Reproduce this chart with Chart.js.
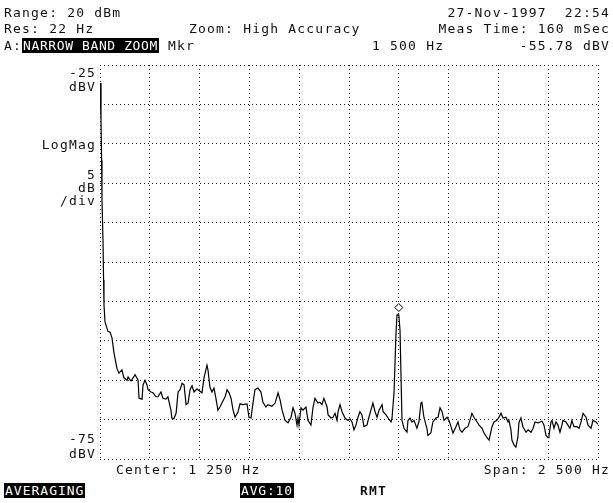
<!DOCTYPE html>
<html lang="en">
<head>
  <title>Narrow Band Zoom</title>
  <script src="https://cdn.jsdelivr.net/npm/chart.js"></script>
  <style>
    html, body { margin: 0; padding: 0; background: #fff; }
    #wrap { position: relative; width: 613px; height: 503px; overflow: hidden; }
    canvas { position: absolute; left: 0; top: 0; }
    .t { position: absolute; font-family: "DejaVu Sans Mono", monospace; font-size: 13px; letter-spacing: 1.2px; line-height: 14px; color: #111; white-space: pre; }
    .r { text-align: right; }
    .inv { background: #000; color: #fff; padding: 0 1px; letter-spacing: 0.6px; }
    .b { font-weight: bold; }
  </style>
</head>
<body>
  <div id="wrap">
    <canvas id="spec" width="613" height="503"></canvas>

    <div class="t" style="left:4px; top:6px">Range: 20 dBm</div>
    <div class="t" style="right:3px; top:6px">27-Nov-1997  22:54</div>
    <div class="t" style="left:4px; top:22px">Res: 22 Hz</div>
    <div class="t" style="left:189px; top:22px">Zoom: High Accuracy</div>
    <div class="t" style="right:3px; top:22px">Meas Time: 160 mSec</div>
    <div class="t" style="left:4px; top:39px">A:<span class="inv">NARROW BAND ZOOM</span> Mkr</div>
    <div class="t" style="left:372px; top:39px">1 500 Hz</div>
    <div class="t" style="right:3px; top:39px">-55.78 dBV</div>

    <div class="t r" style="right:517px; top:66px">-25</div>
    <div class="t r" style="right:517px; top:80px">dBV</div>
    <div class="t r" style="right:517px; top:138px">LogMag</div>
    <div class="t r" style="right:517px; top:168px">5</div>
    <div class="t r" style="right:517px; top:181px">dB</div>
    <div class="t r" style="right:517px; top:194px">/div</div>
    <div class="t r" style="right:517px; top:432px">-75</div>
    <div class="t r" style="right:517px; top:447px">dBV</div>

    <div class="t" style="left:116px; top:463px">Center: 1 250 Hz</div>
    <div class="t" style="right:3px; top:463px">Span: 2 500 Hz</div>
    <div class="t" style="left:4px; top:484px"><span class="inv" style="letter-spacing:1px">AVERAGING</span></div>
    <div class="t" style="left:240px; top:484px"><span class="inv" style="letter-spacing:0.8px">AVG:10</span></div>
    <div class="t b" style="left:360px; top:484px">RMT</div>
  </div>

  <script>
    // frequency (Hz) and level (dBV)
    const freqHz = [
      0, 5, 8, 10, 15, 18, 20, 25, 40, 50,
      60, 70, 85, 95, 110, 120, 136, 141, 156, 166,
      176, 191, 196, 211, 216, 226, 236, 241, 256, 266,
      281, 291, 306, 316, 331, 341, 356, 361, 371, 382,
      392, 402, 412, 422, 432, 442, 452, 462, 472, 487,
      492, 512, 522, 537, 542, 552, 562, 572, 582, 592,
      602, 612, 628, 638, 648, 658, 668, 678, 693, 703,
      718, 738, 748, 758, 768, 778, 793, 808, 818, 833,
      843, 863, 879, 894, 904, 914, 929, 944, 959, 969,
      979, 989, 994, 999, 1009, 1019, 1034, 1044, 1059, 1069,
      1079, 1094, 1104, 1114, 1124, 1140, 1145, 1160, 1170, 1180,
      1190, 1195, 1205, 1215, 1230, 1245, 1255, 1265, 1275, 1285,
      1295, 1305, 1315, 1325, 1340, 1350, 1360, 1370, 1381, 1391,
      1401, 1416, 1421, 1436, 1446, 1461, 1466, 1476, 1486, 1491,
      1500, 1506, 1516, 1526, 1541, 1546, 1556, 1566, 1576, 1591,
      1601, 1611, 1616, 1626, 1641, 1646, 1661, 1671, 1686, 1697,
      1707, 1717, 1727, 1742, 1752, 1762, 1772, 1787, 1797, 1807,
      1817, 1832, 1847, 1857, 1867, 1877, 1893, 1903, 1918, 1928,
      1943, 1953, 1968, 1978, 1993, 2003, 2013, 2023, 2038, 2048,
      2053, 2063, 2068, 2078, 2088, 2098, 2103, 2113, 2123, 2139,
      2149, 2164, 2174, 2184, 2199, 2209, 2219, 2229, 2239, 2249,
      2254, 2264, 2269, 2279, 2289, 2299, 2309, 2319, 2324, 2339,
      2349, 2359, 2369, 2379, 2395, 2405, 2415, 2425, 2440, 2450,
      2465, 2475, 2490, 2500
    ];
    const levelDbv = [
      -27.3, -32.0, -37.1, -42.1, -47.2, -52.3, -55.4, -57.6, -58.8, -58.9,
      -59.6, -61.5, -63.5, -64.1, -63.7, -64.7, -65.0, -64.6, -65.1, -64.7,
      -64.3, -65.0, -67.3, -67.4, -65.6, -65.0, -65.6, -66.2, -66.5, -66.6,
      -67.1, -67.1, -66.5, -67.3, -67.4, -67.1, -68.8, -69.8, -69.9, -69.2,
      -66.5, -66.2, -65.4, -65.6, -68.1, -67.9, -66.2, -65.7, -66.5, -66.1,
      -66.2, -66.6, -64.7, -63.1, -63.7, -65.9, -66.5, -66.0, -67.3, -68.8,
      -68.4, -67.9, -67.1, -66.2, -66.6, -67.3, -68.8, -69.7, -69.0, -68.0,
      -68.1, -68.0, -69.7, -69.8, -67.9, -66.2, -66.0, -66.5, -67.8, -68.4,
      -68.1, -68.3, -67.9, -66.6, -67.5, -68.8, -70.1, -70.4, -69.7, -68.5,
      -69.2, -70.7, -69.8, -70.7, -68.5, -68.8, -68.4, -70.1, -70.7, -68.5,
      -67.3, -67.9, -67.8, -68.1, -67.3, -68.4, -69.4, -69.8, -69.7, -69.2,
      -70.1, -69.0, -68.1, -69.0, -69.8, -70.1, -69.9, -70.3, -71.3, -70.7,
      -69.7, -69.0, -69.4, -70.9, -70.7, -69.7, -68.8, -67.9, -69.0, -69.7,
      -68.8, -68.1, -69.0, -69.4, -69.8, -70.3, -69.8, -66.6, -59.0, -56.7,
      -56.7, -58.6, -70.1, -71.1, -71.6, -70.1, -69.8, -70.3, -70.1, -71.1,
      -70.3, -67.9, -67.8, -69.7, -71.1, -72.0, -71.7, -70.3, -69.8, -69.7,
      -68.5, -69.0, -70.1, -69.7, -70.1, -70.9, -71.7, -70.9, -70.3, -71.3,
      -71.6, -71.1, -70.9, -70.1, -69.2, -69.7, -70.3, -70.7, -71.1, -71.7,
      -72.3, -72.6, -70.9, -70.3, -70.1, -69.7, -69.2, -69.8, -69.7, -70.3,
      -70.1, -71.3, -72.6, -73.2, -73.5, -72.2, -70.4, -69.8, -70.9, -71.6,
      -71.3, -71.6, -71.1, -70.3, -70.4, -70.3, -70.2, -70.7, -72.0, -72.3,
      -72.0, -70.3, -70.1, -71.1, -70.3, -70.7, -71.6, -70.7, -70.1, -70.3,
      -70.7, -71.1, -70.1, -70.9, -70.9, -71.1, -70.3, -69.2, -69.7, -70.7,
      -71.1, -70.1, -70.3, -70.6
    ];

    // marker readout
    const markerHz = [1500];
    const markerDbv = [-55.78];

    // axis: center 1250 Hz, span 2500 Hz, 250 Hz/div; -25 .. -75 dBV, 5 dB/div
    const freqTicks = [0, 250, 500, 750, 1000, 1250, 1500, 1750, 2000, 2250, 2500];
    const levelTicks = [-25, -30, -35, -40, -45, -50, -55, -60, -65, -70, -75];

    const trace = freqHz.map((f, i) => ({ x: f, y: levelDbv[i] }));
    const marker = markerHz.map((f, i) => ({ x: f, y: markerDbv[i] }));

    const dotted = {
      display: true,
      color: '#222',
      lineWidth: 1,
      drawTicks: false
    };

    new Chart(document.getElementById('spec'), {
      type: 'line',
      data: {
        datasets: [{
          data: marker,
          showLine: false,
          pointStyle: 'rectRot',
          pointRadius: 4,
          pointBorderWidth: 1,
          pointBorderColor: '#000',
          pointBackgroundColor: '#fff'
        }, {
          data: trace,
          borderColor: '#000',
          borderWidth: 1.2,
          pointRadius: 0,
          tension: 0
        }]
      },
      options: {
        responsive: false,
        animation: false,
        layout: { padding: { left: 100, right: 15, top: 65, bottom: 44 } },
        plugins: { legend: { display: false }, tooltip: { enabled: false } },
        scales: {
          x: {
            type: 'linear',
            min: 0,
            max: 2500,
            afterBuildTicks: axis => { axis.ticks = freqTicks.map(v => ({ value: v })); },
            ticks: { display: false },
            grid: dotted,
            border: { display: false, dash: [1, 3] }
          },
          y: {
            type: 'linear',
            min: -75,
            max: -25,
            afterBuildTicks: axis => { axis.ticks = levelTicks.map(v => ({ value: v })); },
            ticks: { display: false },
            grid: dotted,
            border: { display: false, dash: [1, 3] }
          }
        }
      }
    });
  </script>
</body>
</html>
